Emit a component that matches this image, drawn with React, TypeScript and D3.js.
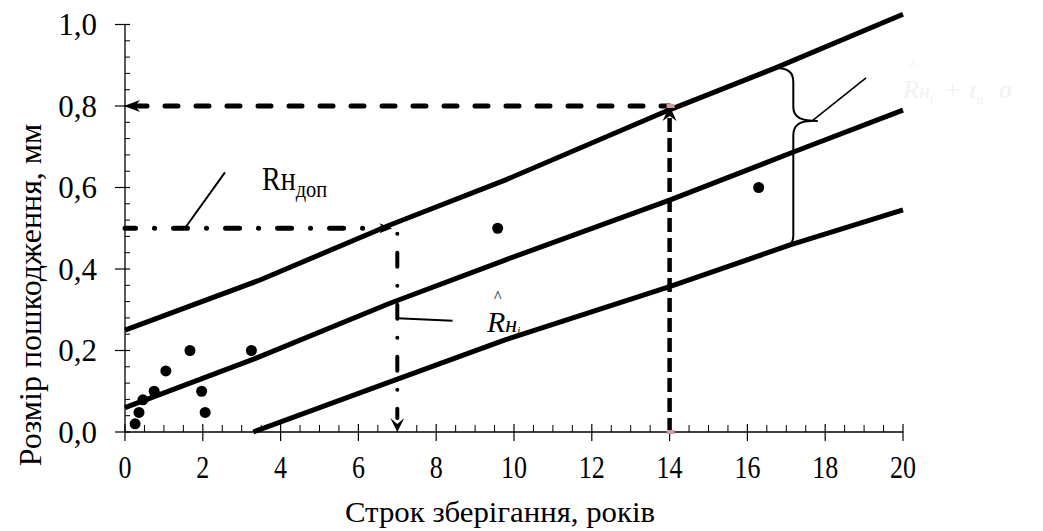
import React from "react";
import * as d3 from "d3";

// ---- data ----
const xTicks = [0, 2, 4, 6, 8, 10, 12, 14, 16, 18, 20];
const xTickLabels = ["0", "2", "4", "6", "8", "10", "12", "14", "16", "18", "20"];
const yTicks = [0, 0.2, 0.4, 0.6, 0.8, 1.0];
const yTickLabels = ["0,0", "0,2", "0,4", "0,6", "0,8", "1,0"];

const pointsX = [0.26, 0.36, 0.46, 0.75, 1.05, 1.67, 1.97, 2.06, 3.25, 9.58, 16.29];
const pointsY = [0.02, 0.048, 0.079, 0.1, 0.15, 0.2, 0.1, 0.048, 0.2, 0.5, 0.6];

const upperX = [0, 3.47, 6.81, 9.77, 13.98, 16.71, 20];
const upperY = [0.25, 0.373, 0.508, 0.618, 0.79, 0.893, 1.025];
const middleX = [0, 3.34, 6.81, 9.77, 14, 17.1, 20];
const middleY = [0.06, 0.18, 0.316, 0.422, 0.569, 0.684, 0.79];
const lowerX = [3.3, 6.81, 9.77, 14, 17.1, 20];
const lowerY = [0, 0.123, 0.226, 0.357, 0.459, 0.545];

const permYears = 7;
const permDepth = 0.5;
const limitYears = 14;
const limitDepth = 0.8;

const FONT = "'Times New Roman', 'Liberation Serif', serif";

export default function App() {
  const xs = d3.scaleLinear().domain([0, 20]).range([125, 903]);
  const ys = d3.scaleLinear().domain([0, 1]).range([432, 24.5]);
  const line = d3
    .line<[number, number]>()
    .x((d) => xs(d[0]))
    .y((d) => ys(d[1]));
  const zip = (a: number[], b: number[]) => a.map((v, i) => [v, b[i]] as [number, number]);

  const xMinor = d3.range(0, 20.001, 0.5).filter((v) => Math.abs(v / 2 - Math.round(v / 2)) > 1e-6);
  const yMinor = d3.range(0, 1.0001, 0.04).filter((v) => Math.abs(v / 0.2 - Math.round(v / 0.2)) > 1e-6);

  const x0 = xs(0), xEnd = xs(20), y0 = ys(0), yTop = ys(1);

  const lx = xs(limitYears), ly = ys(limitDepth);
  const px = xs(permYears), py = ys(permDepth);

  // brace geometry (data units)
  const bTop: [number, number] = [16.71, 0.893];
  const bBot: [number, number] = [17.05, 0.462];
  const bx = xs(17.18);
  const tipX = xs(17.81), tipY = ys(0.763);
  const topY = ys(bTop[1]), botY = ys(bBot[1]);
  const bracePath =
    `M${xs(bTop[0])},${topY} C${bx - 5},${topY} ${bx},${topY + 4} ${bx},${topY + 14} ` +
    `L${bx},${tipY - 14} C${bx},${tipY - 3} ${bx + 9},${tipY} ${tipX},${tipY} ` +
    `M${tipX - 6},${tipY} C${bx + 6},${tipY} ${bx},${tipY + 4} ${bx},${tipY + 14} ` +
    `L${bx},${botY - 8} C${bx},${botY - 3} ${bx - 2},${botY} ${bx - 5},${botY + 1}`;

  return (
    <svg
      width={1043}
      height={531}
      style={{ position: "absolute", left: 0, top: 0, background: "#fff" }}
      fontFamily={FONT}
    >
      <rect x={0} y={0} width={1043} height={531} fill="#fff" />

      {/* axes */}
      <line x1={x0} y1={yTop} x2={x0} y2={y0} stroke="#000" strokeWidth={1.3} />
      <line x1={x0} y1={y0} x2={xEnd} y2={y0} stroke="#000" strokeWidth={1.3} />
      {yTicks.map((t, i) => (
        <g key={"yt" + i}>
          <line x1={x0 - 10} x2={x0 + 5} y1={ys(t)} y2={ys(t)} stroke="#000" strokeWidth={1.2} />
          <text x={97} y={ys(t) + 10.5} fontSize={31} textAnchor="end" fill="#000">
            {yTickLabels[i]}
          </text>
        </g>
      ))}
      {yMinor.map((t, i) => (
        <line key={"ym" + i} x1={x0} x2={x0 + 5} y1={ys(t)} y2={ys(t)} stroke="#000" strokeWidth={1} />
      ))}
      {xTicks.map((t, i) => (
        <g key={"xt" + i}>
          <line x1={xs(t)} x2={xs(t)} y1={y0 - 8} y2={y0 + 9} stroke="#000" strokeWidth={1.2} />
          <text
            x={xs(t)}
            y={478}
            fontSize={32}
            textAnchor="middle"
            textLength={xTickLabels[i].length * 13}
            lengthAdjust="spacingAndGlyphs"
            fill="#000"
          >
            {xTickLabels[i]}
          </text>
        </g>
      ))}
      {xMinor.map((t, i) => (
        <line key={"xm" + i} x1={xs(t)} x2={xs(t)} y1={y0 - 7} y2={y0} stroke="#000" strokeWidth={1} />
      ))}

      {/* axis titles */}
      <text x={500} y={522} fontSize={30} textAnchor="middle" textLength={310} lengthAdjust="spacingAndGlyphs" fill="#000">
        Строк зберігання, років
      </text>
      <text
        transform={`translate(41,295) rotate(-90)`}
        fontSize={32}
        textAnchor="middle"
        fill="#000"
      >
        Розмір пошкодження, мм
      </text>

      {/* regression & bound lines */}
      <path d={line(zip(upperX, upperY)) || ""} fill="none" stroke="#000" strokeWidth={5} strokeLinejoin="round" />
      <path d={line(zip(middleX, middleY)) || ""} fill="none" stroke="#000" strokeWidth={5} strokeLinejoin="round" />
      <path d={line(zip(lowerX, lowerY)) || ""} fill="none" stroke="#000" strokeWidth={5} strokeLinejoin="round" />

      {/* points */}
      {pointsX.map((v, i) => (
        <circle key={"p" + i} cx={xs(v)} cy={ys(pointsY[i])} r={5.5} fill="#000" />
      ))}

      {/* limit dashed lines */}
      <line
        x1={x0 + 9} y1={ly} x2={lx} y2={ly}
        stroke="#000" strokeWidth={5} strokeDasharray="13,18" strokeLinecap="round"
      />
      <path d={`M${x0 - 1},${ly} L${x0 + 15},${ly - 6} L${x0 + 10},${ly} L${x0 + 15},${ly + 6} Z`} fill="#000" />
      <line
        x1={lx} y1={y0} x2={lx} y2={ly + 10}
        stroke="#000" strokeWidth={4.5} strokeDasharray="14,6"
      />
      <path d={`M${lx},${ly} L${lx - 7},${ly + 15} L${lx},${ly + 10} L${lx + 7},${ly + 15} Z`} fill="#000" />
      <rect x={lx - 3} y={ly - 2} width={8} height={4} fill="#d69a9a" />
      <rect x={lx - 3} y={y0 - 2} width={8} height={4} fill="#d69a9a" />

      {/* permitted dash-dot lines */}
      <line
        x1={x0} y1={py} x2={px - 13} y2={py}
        stroke="#000" strokeWidth={5} strokeDasharray="14,19,0.01,19" strokeDashoffset={3.5} strokeLinecap="round"
      />
      <path d={`M${px - 5},${py} L${px - 18},${py - 5} L${px - 14},${py} L${px - 18},${py + 5} Z`} fill="#000" />
      <line
        x1={px} y1={py} x2={px} y2={y0 - 14}
        stroke="#000" strokeWidth={4} strokeDasharray="14,19,0.01,19" strokeDashoffset={27.5} strokeLinecap="round"
      />
      <path d={`M${px},${y0} L${px - 7},${y0 - 14} L${px},${y0 - 8} L${px + 7},${y0 - 14} Z`} fill="#000" />

      {/* leaders */}
      <line x1={xs(1.54)} y1={ys(0.5)} x2={xs(2.57)} y2={ys(0.637)} stroke="#000" strokeWidth={2} />
      <line x1={px} y1={ys(0.279)} x2={xs(8.42)} y2={ys(0.273)} stroke="#000" strokeWidth={2} />
      <path d={bracePath} fill="none" stroke="#000" strokeWidth={2} />
      <line x1={tipX - 6} y1={tipY} x2={xs(19.05)} y2={ys(0.869)} stroke="#000" strokeWidth={1.6} />

      {/* labels */}
      <text transform="translate(262,190) scale(0.85,1)" fontSize={33} fill="#000">
        Rн<tspan fontSize={24} dy={7}>доп</tspan>
      </text>

      <text x={494} y={302} fontSize={16} fill="#000">^</text>
      <text x={487} y={332} fontSize={30} fontStyle="italic" fill="#000">
        R<tspan fontSize={24}>н</tspan>
        <tspan fontSize={11} dy={2}>i</tspan>
      </text>

      {/* faint (white) label at top right */}
      <g fill="#f1f1f1" fontStyle="italic">
        <text x={909} y={71} fontSize={14}>^</text>
        <text x={903} y={98} fontSize={26}>
          R<tspan fontSize={22}>н</tspan>
          <tspan fontSize={12} dy={6}>i</tspan>
          <tspan fontSize={26} dy={-6} fontStyle="normal" dx={12}>+</tspan>
          <tspan fontSize={24} dx={10}>t</tspan>
          <tspan fontSize={13} dy={6}>a</tspan>
          <tspan fontSize={26} dy={-6} dx={16}>σ</tspan>
        </text>
      </g>
    </svg>
  );
}
